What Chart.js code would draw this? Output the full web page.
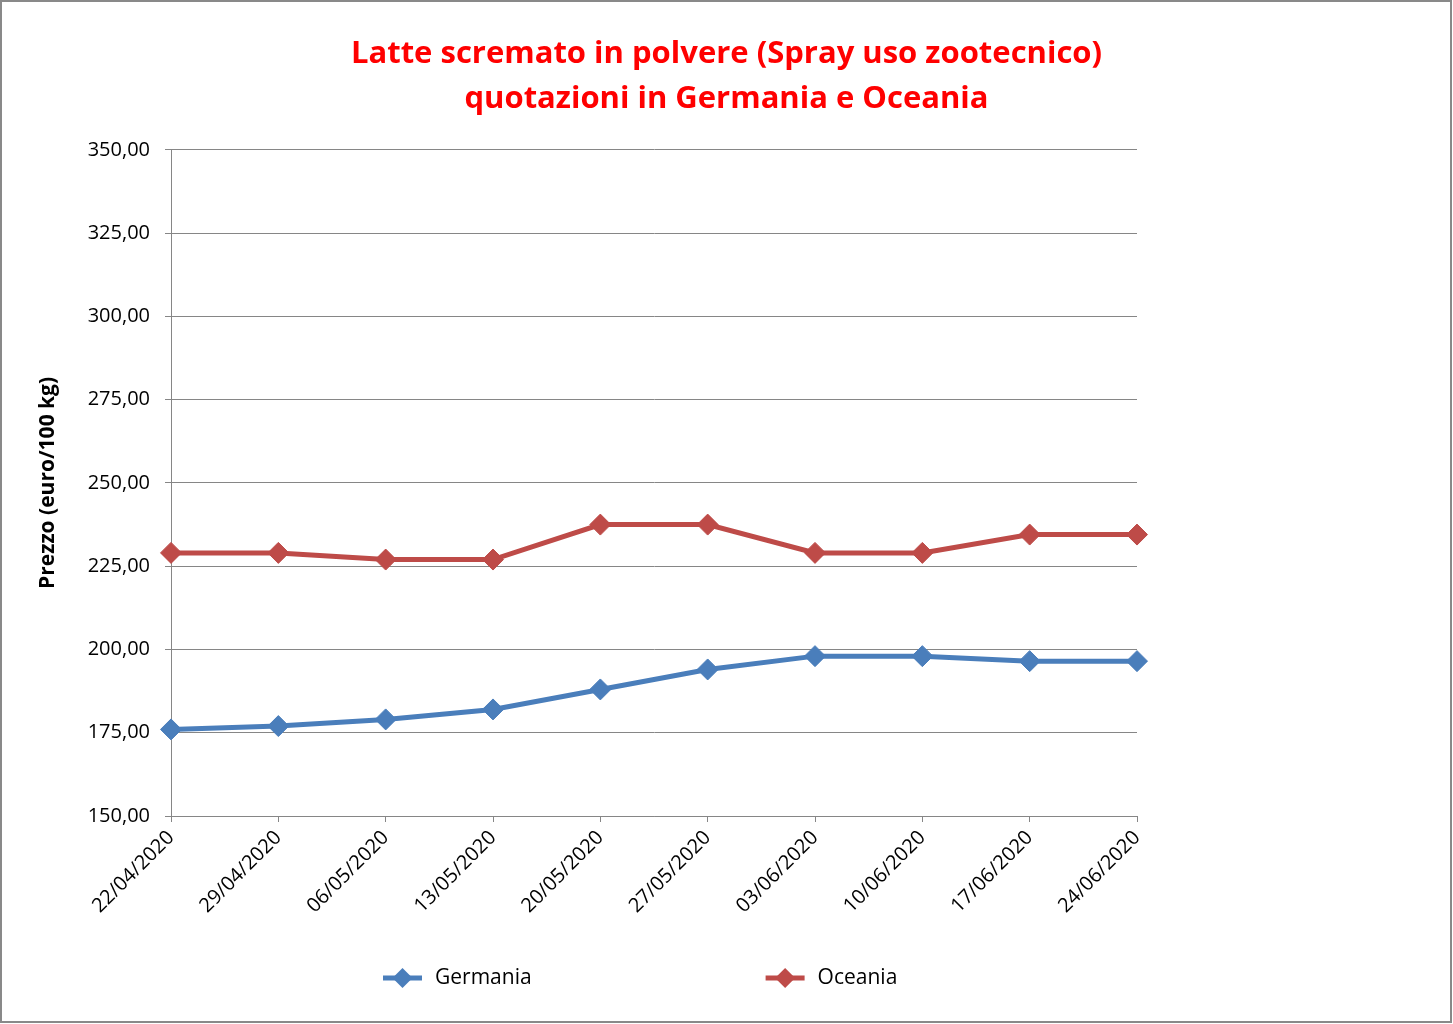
<!DOCTYPE html>
<html>
<head>
<meta charset="utf-8">
<script src="https://cdn.jsdelivr.net/npm/chart.js@4"></script>
<style>
  html, body { margin: 0; padding: 0; background: #ffffff; }
  #wrap { width: 1453px; height: 1024px; position: relative; }
</style>
</head>
<body>
<div id="wrap"><canvas id="c" width="1453" height="1024"></canvas></div>
<script>
const categories = ['22/04/2020','29/04/2020','06/05/2020','13/05/2020','20/05/2020','27/05/2020','03/06/2020','10/06/2020','17/06/2020','24/06/2020'];
const germania = [176.0, 177.0, 179.0, 182.0, 188.0, 194.0, 198.0, 198.0, 196.5, 196.5];
const oceania  = [229.0, 229.0, 227.0, 227.0, 237.5, 237.5, 229.0, 229.0, 234.5, 234.5];
const seriesNames = ['Germania', 'Oceania'];
const titleLines = ['Latte scremato in polvere (Spray uso zootecnico)', 'quotazioni in Germania e Oceania'];
const yAxisTitle = 'Prezzo (euro/100 kg)';
const yMin = 150, yMax = 350, yStep = 25;

const BLUE = '#4A7EBB';
const RED = '#BE4B48';
const GRID = '#868686';
const FONT = '"Open Sans", Lato, sans-serif';

const framePlugin = {
  id: 'frame',
  afterDraw(chart) {
    const ctx = chart.ctx;
    ctx.save();
    ctx.strokeStyle = '#898989';
    ctx.lineWidth = 2;
    ctx.strokeRect(1, 1, chart.width - 3, chart.height - 3);
    ctx.restore();
  }
};

const legendPlugin = {
  id: 'excelLegend',
  afterDraw(chart) {
    const ctx = chart.ctx;
    const ds = chart.data.datasets;
    ctx.save();
    ctx.font = '21px ' + FONT;
    ctx.textBaseline = 'middle';
    ctx.textAlign = 'left';
    const lineW = 39, txtGap = 13, gap = 234;
    const widths = ds.map(d => lineW + txtGap + ctx.measureText(d.label).width);
    const ca = chart.chartArea;
    let x = ca.left + 212;
    const y = chart.height - 46;
    ds.forEach((d, i) => {
      ctx.strokeStyle = d.borderColor;
      ctx.lineWidth = 5;
      ctx.beginPath();
      ctx.moveTo(x, y);
      ctx.lineTo(x + lineW, y);
      ctx.stroke();
      const cx = x + lineW / 2, r = 10;
      ctx.fillStyle = d.pointBackgroundColor;
      ctx.beginPath();
      ctx.moveTo(cx - r, y); ctx.lineTo(cx, y - r); ctx.lineTo(cx + r, y); ctx.lineTo(cx, y + r);
      ctx.closePath();
      ctx.fill();
      ctx.fillStyle = '#000000';
      ctx.fillText(d.label, x + lineW + txtGap, y);
      x += widths[i] + gap;
    });
    ctx.restore();
  }
};

new Chart(document.getElementById('c'), {
  type: 'line',
  data: {
    labels: categories,
    datasets: [
      {
        label: seriesNames[0], data: germania,
        borderColor: BLUE, backgroundColor: BLUE,
        pointBackgroundColor: BLUE, pointBorderColor: BLUE,
        borderWidth: 5, pointStyle: 'rectRot', pointRadius: 10.5, pointHoverRadius: 10.5,
        pointBorderWidth: 1, tension: 0
      },
      {
        label: seriesNames[1], data: oceania,
        borderColor: RED, backgroundColor: RED,
        pointBackgroundColor: RED, pointBorderColor: RED,
        borderWidth: 5, pointStyle: 'rectRot', pointRadius: 10.5, pointHoverRadius: 10.5,
        pointBorderWidth: 1, tension: 0
      }
    ]
  },
  options: {
    responsive: false,
    animation: false,
    layout: { padding: { left: 20, right: 20, top: 0, bottom: 78 } },
    plugins: {
      legend: { display: false },
      tooltip: { enabled: false },
      title: {
        display: true,
        text: titleLines,
        color: '#FF0000',
        font: { family: FONT, size: 31, weight: 'bold', lineHeight: 1.45 },
        padding: { top: 32, bottom: 28 }
      }
    },
    scales: {
      x: {
        offset: false,
        grid: { display: true, drawOnChartArea: false, drawTicks: true, tickLength: 6, color: GRID, lineWidth: 1 },
        border: { display: true, color: GRID, width: 1 },
        ticks: {
          color: '#000000', font: { family: FONT, size: 20 },
          minRotation: 45, maxRotation: 45, autoSkip: false, padding: 4
        },
        afterFit(s) { s.height = 130; }
      },
      y: {
        min: yMin, max: yMax,
        grid: { color: GRID, lineWidth: 1, tickLength: 6, drawTicks: true },
        border: { display: true, color: GRID, width: 1 },
        ticks: {
          stepSize: yStep, color: '#000000', font: { family: FONT, size: 20 }, padding: 15,
          callback: v => v.toFixed(2).replace('.', ',')
        },
        title: {
          display: true, text: yAxisTitle, color: '#000000',
          font: { family: FONT, size: 21, weight: 'bold' },
          padding: { top: 15, bottom: 0 }
        },
        afterFit(s) { s.width = 151; }
      },
      yRight: {
        type: 'linear', position: 'right', display: true,
        grid: { display: false }, border: { display: false },
        ticks: { display: false },
        afterFit(s) { s.width = 296; }
      }
    }
  },
  plugins: [framePlugin, legendPlugin]
});
</script>
</body>
</html>
